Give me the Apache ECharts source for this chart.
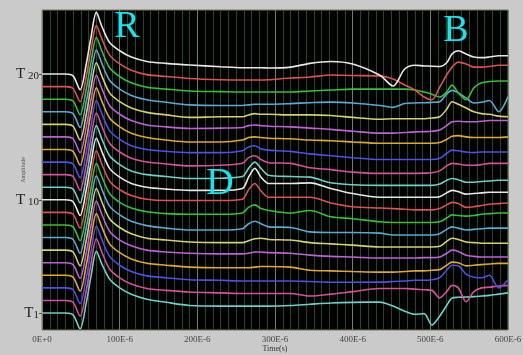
<!DOCTYPE html>
<html>
<head>
<meta charset="utf-8">
<script src="https://cdn.jsdelivr.net/npm/echarts@6/dist/echarts.min.js"></script>
<style>
html,body{margin:0;padding:0;background:#cacaca;}
#c{width:523px;height:355px;}
</style>
</head>
<body>
<div id="c"></div>
<script>
// time grid in microseconds
const timeUs = [0, 30, 40, 49, 57, 63, 70, 77, 87, 100, 115, 135, 160, 190, 230, 258, 266, 274, 282, 292, 320, 345, 372, 400, 435, 452, 467, 480, 492, 502, 512, 521, 528, 536, 546, 556, 566, 576, 588, 600];

// amplitude of each trace relative to its own baseline
const T1  = [0, 0, -0.15, -1.25, 0.8, 2.9, 4.9, 3.9, 2.7, 2.0, 1.5, 1.1, 0.85, 0.6, 0.55, 0.55, 0.55, 0.55, 0.55, 0.55, 0.6, 0.7, 0.8, 0.85, 0.87, 0.55, 0.15, -0.1, -0.05, -0.95, -0.25, 0.6, 1.2, 1.25, 1.27, 1.3, 1.35, 1.4, 1.5, 1.6];
const T2  = [0, 0, -0.15, -1.25, 0.8, 2.9, 4.9, 3.85, 2.5, 1.8, 1.3, 0.95, 0.8, 0.67, 0.6, 0.55, 0.55, 0.55, 0.55, 0.55, 0.55, 0.35, 0.5, 0.7, 0.95, 0.95, 0.95, 0.9, 0.85, 0.8, 0.2, 0.7, 1.2, 1.0, -0.1, 0.7, 1.0, 1.05, 1.15, 1.2];
const T3  = [0, 0, -0.15, -1.25, 0.8, 2.9, 4.9, 3.85, 2.5, 1.8, 1.3, 0.95, 0.8, 0.65, 0.6, 0.55, 0.55, 0.55, 0.55, 0.55, 0.55, 0.5, 0.45, 0.45, 0.46, 0.5, 0.55, 0.6, 0.6, 0.65, 0.8, 1.4, 1.8, 1.75, 1.1, 0.85, 0.8, 1.0, 0.0, 0.65];
const T4  = [0, 0, -0.15, -1.25, 0.8, 2.9, 4.9, 3.85, 2.5, 1.8, 1.3, 0.95, 0.8, 0.65, 0.6, 0.6, 0.6, 0.65, 0.7, 0.7, 0.65, 0.4, 0.35, 0.3, 0.25, 0.25, 0.3, 0.35, 0.35, 0.4, 0.45, 0.8, 1.05, 1.0, 0.75, 0.8, 0.85, 0.9, 0.95, 0.95];
const T5  = [0, 0, -0.15, -1.25, 0.8, 2.9, 4.9, 3.85, 2.5, 1.8, 1.35, 1.0, 0.85, 0.75, 0.7, 0.7, 0.75, 0.85, 0.85, 0.8, 0.75, 0.6, 0.5, 0.45, 0.37, 0.37, 0.37, 0.37, 0.4, 0.4, 0.45, 0.75, 1.0, 0.9, 0.6, 0.5, 0.45, 0.45, 0.45, 0.45];
const T6  = [0, 0, -0.15, -1.25, 0.8, 2.9, 4.9, 3.85, 2.5, 1.8, 1.3, 0.95, 0.8, 0.65, 0.6, 0.6, 0.75, 0.9, 0.95, 0.85, 0.8, 0.6, 0.5, 0.4, 0.25, 0.25, 0.25, 0.25, 0.25, 0.25, 0.3, 0.7, 0.95, 0.85, 0.65, 0.6, 0.55, 0.55, 0.55, 0.55];
const T7  = [0, 0, -0.15, -1.25, 0.8, 2.9, 4.9, 3.85, 2.5, 1.8, 1.3, 0.95, 0.75, 0.6, 0.6, 0.7, 1.1, 1.3, 1.1, 0.85, 0.8, 0.45, 0.4, 0.4, 0.35, 0.2, 0.2, 0.2, 0.2, 0.2, 0.3, 0.65, 0.85, 0.75, 0.6, 0.65, 0.7, 0.75, 0.75, 0.75];
const T8  = [0, 0, -0.15, -1.25, 0.8, 2.9, 4.9, 3.85, 2.5, 1.8, 1.35, 1.05, 0.9, 0.85, 0.85, 0.95, 1.4, 1.6, 1.3, 1.15, 0.95, 1.15, 0.65, 0.5, 0.25, 0.2, 0.2, 0.2, 0.2, 0.2, 0.25, 0.55, 0.8, 0.75, 0.7, 0.75, 0.85, 0.9, 0.95, 0.95];
const T9  = [0, 0, -0.15, -1.25, 0.8, 2.9, 4.9, 3.85, 2.5, 1.8, 1.35, 1.05, 0.95, 0.95, 0.95, 1.05, 1.8, 2.3, 1.7, 1.2, 1.2, 1.2, 0.75, 0.45, 0.35, 0.3, 0.25, 0.2, 0.2, 0.2, 0.3, 0.6, 0.8, 0.7, 0.4, 0.45, 0.55, 0.65, 0.7, 0.75];
const T10 = [0, 0, -0.15, -1.25, 0.8, 2.9, 4.9, 3.85, 2.5, 1.8, 1.3, 1.0, 0.85, 0.75, 0.75, 0.9, 1.8, 2.5, 1.8, 1.3, 1.3, 1.35, 0.9, 0.5, 0.2, 0.2, 0.2, 0.2, 0.2, 0.2, 0.25, 0.55, 0.75, 0.65, 0.45, 0.5, 0.55, 0.6, 0.6, 0.6];
const T11 = [0, 0, -0.15, -1.25, 0.8, 2.9, 4.9, 3.85, 2.5, 1.8, 1.3, 1.0, 0.85, 0.7, 0.72, 0.85, 1.5, 2.0, 1.5, 0.95, 0.85, 0.8, 0.35, 0.2, 0.15, 0.15, 0.15, 0.15, 0.15, 0.15, 0.25, 0.55, 0.7, 0.6, 0.4, 0.4, 0.45, 0.5, 0.55, 0.55];
const T12 = [0, 0, -0.15, -1.25, 0.8, 2.9, 4.9, 3.85, 2.5, 1.8, 1.3, 1.0, 0.85, 0.7, 0.75, 0.9, 1.35, 1.5, 1.2, 0.95, 0.9, 0.55, 0.4, 0.2, 0.1, 0.1, 0.1, 0.1, 0.12, 0.15, 0.3, 0.7, 0.9, 0.85, 0.75, 0.75, 0.8, 0.9, 0.9, 0.9];
const T13 = [0, 0, -0.15, -1.25, 0.8, 2.9, 4.9, 3.85, 2.5, 1.8, 1.3, 1.0, 0.85, 0.75, 0.75, 0.9, 1.2, 1.3, 1.05, 0.95, 0.85, 0.65, 0.5, 0.35, 0.2, 0.2, 0.2, 0.2, 0.2, 0.2, 0.3, 0.7, 0.95, 0.9, 0.8, 0.75, 0.8, 0.8, 0.8, 0.8];
const T14 = [0, 0, -0.15, -1.25, 0.8, 2.9, 4.9, 3.85, 2.5, 1.8, 1.3, 0.95, 0.75, 0.6, 0.6, 0.75, 0.95, 1.0, 0.95, 0.9, 0.85, 0.75, 0.7, 0.6, 0.5, 0.5, 0.5, 0.5, 0.5, 0.5, 0.55, 0.8, 1.05, 1.1, 1.0, 0.95, 0.95, 0.95, 0.95, 1.0];
const T15 = [0, 0, -0.15, -1.25, 0.8, 2.9, 4.9, 3.85, 2.5, 1.8, 1.3, 0.95, 0.8, 0.67, 0.7, 0.75, 0.9, 0.95, 0.9, 0.85, 0.8, 0.7, 0.6, 0.45, 0.3, 0.3, 0.35, 0.4, 0.42, 0.45, 0.55, 0.9, 1.2, 1.25, 1.2, 1.2, 1.25, 1.3, 1.3, 1.3];
const T16 = [0, 0, -0.15, -1.25, 0.8, 2.9, 4.9, 3.85, 2.5, 1.8, 1.3, 0.95, 0.75, 0.55, 0.6, 0.6, 0.75, 0.85, 0.8, 0.8, 0.75, 0.75, 0.7, 0.55, 0.4, 0.45, 0.45, 0.45, 0.45, 0.5, 0.6, 1.2, 1.8, 1.6, 1.3, 1.0, 0.85, 0.8, 0.65, 0.6];
const T17 = [0, 0, -0.15, -1.25, 0.8, 2.9, 4.9, 3.85, 2.5, 1.8, 1.3, 0.95, 0.75, 0.55, 0.5, 0.5, 0.55, 0.6, 0.6, 0.6, 0.65, 0.72, 0.77, 0.7, 0.5, 0.35, 0.65, 0.7, 0.72, 0.75, 0.8, 1.4, 1.7, 1.5, 1.1, 0.7, 0.75, 0.9, 0.0, 1.2];
const T18 = [0, 0, -0.15, -1.25, 0.8, 2.9, 4.9, 3.85, 2.5, 1.8, 1.3, 0.95, 0.8, 0.65, 0.6, 0.57, 0.57, 0.57, 0.57, 0.57, 0.57, 0.65, 0.73, 0.8, 0.8, 0.8, 0.8, 0.73, 0.57, 0.4, 0.17, 0.57, 1.12, 0.5, -0.05, 0.9, 1.3, 1.4, 1.44, 1.44];
const T19 = [0, 0, -0.15, -1.2, 0.8, 2.9, 4.85, 3.8, 2.5, 1.8, 1.3, 0.95, 0.8, 0.65, 0.55, 0.52, 0.52, 0.52, 0.52, 0.55, 0.68, 0.76, 0.92, 0.88, 0.85, 0.6, 0.13, -0.27, -0.83, -1.05, -0.05, 0.92, 1.55, 1.95, 1.8, 1.55, 1.55, 1.6, 1.7, 1.7];
const T20 = [0, 0, -0.15, -1.25, 0.8, 2.9, 4.9, 3.8, 2.5, 1.85, 1.35, 1.0, 0.85, 0.72, 0.58, 0.5, 0.5, 0.5, 0.5, 0.48, 0.55, 0.85, 1.0, 0.8, -0.1, -0.95, 0.4, 0.7, 0.65, 0.62, 0.6, 0.9, 1.6, 1.85, 1.6, 1.35, 1.3, 1.35, 1.45, 1.45];

const traces = [T1, T2, T3, T4, T5, T6, T7, T8, T9, T10, T11, T12, T13, T14, T15, T16, T17, T18, T19, T20];
const baselines = [1, 2, 3, 4, 5, 6, 7, 8, 9, 10, 11, 12, 13, 14, 15, 16, 17, 18, 19, 20];
const traceColors = ['#6fd0c8', '#d8509a', '#4f4fea', '#e0a830', '#c060d8', '#d2d272', '#5aaad2', '#38c038', '#e05050', '#e8e8e8',
                     '#6fd0c8', '#d8509a', '#4f4fea', '#e0a830', '#c060d8', '#d2d272', '#5aaad2', '#38c038', '#e05050', '#e8e8e8'];
const xTickLabels = {0: '0E+0', 100: '100E-6', 200: '200E-6', 300: '300E-6', 400: '400E-6', 500: '500E-6', 600: '600E-6'};
const yLabelValues = [1, 10, 20];
const yLabelText = {1: ['T', '1'], 10: ['T', ' 10'], 20: ['T', ' 20']};
const marks = [{text: 'R', x: 127, y: 27}, {text: 'D', x: 220, y: 184}, {text: 'B', x: 456, y: 31}];

const chart = echarts.init(document.getElementById('c'), null, {renderer: 'canvas'});
const series = traces.map((vals, i) => ({
  type: 'line',
  name: 'T' + (i + 1),
  data: timeUs.map((t, k) => [t, vals[k] + baselines[i]]),
  smooth: 0.3,
  showSymbol: false,
  lineStyle: {color: traceColors[i], width: 1.6},
  itemStyle: {color: traceColors[i]},
  z: 3
}));

chart.setOption({
  animation: false,
  backgroundColor: '#cacaca',
  grid: {left: 42, right: 15, top: 10, bottom: 25, containLabel: false, outerBoundsMode: 'none',
         show: true, backgroundColor: '#000', borderColor: '#7a7a5a', borderWidth: 1},
  xAxis: {
    type: 'value', min: 0, max: 600, interval: 100,
    name: 'Time(s)', nameLocation: 'middle', nameGap: 15, nameMoveOverlap: false,
    nameTextStyle: {fontFamily: 'Liberation Serif', fontSize: 8, color: '#333'},
    axisLine: {show: false},
    axisTick: {show: false},
    axisLabel: {fontFamily: 'Liberation Serif', fontSize: 9, color: '#444', margin: 5, hideOverlap: false,
      formatter: v => xTickLabels[v] !== undefined ? xTickLabels[v] : ''},
    splitLine: {show: true, lineStyle: {color: '#5c8a5c', width: 1}},
    minorTick: {show: false, splitNumber: 10},
    minorSplitLine: {show: true, lineStyle: {color: '#1d4d1d', width: 1}}
  },
  yAxis: {
    type: 'value', min: -0.35, max: 25.09,
    name: 'Amplitude', nameLocation: 'middle', nameGap: 16, nameRotate: 90, nameMoveOverlap: false,
    nameTextStyle: {fontFamily: 'Liberation Serif', fontSize: 6, color: '#555'},
    axisLine: {show: false},
    splitLine: {show: false},
    axisTick: {show: true, length: 3, lineStyle: {color: '#555'}, customValues: yLabelValues},
    axisLabel: {
      customValues: yLabelValues, margin: 3,
      formatter: v => { const p = yLabelText[Math.round(v)]; return p ? '{a|' + p[0] + '}{b|' + p[1] + '}' : ''; },
      rich: {
        a: {fontFamily: 'Liberation Serif', fontSize: 15, color: '#222'},
        b: {fontFamily: 'Liberation Serif', fontSize: 11, color: '#222', verticalAlign: 'bottom'}
      }
    }
  },
  graphic: marks.map(m => ({
    type: 'text', x: m.x, y: m.y, z: 10,
    style: {text: m.text, fill: '#14e6ee', font: '38px "Liberation Serif"', textAlign: 'center', textVerticalAlign: 'middle'}
  })),
  series: series
});
</script>
</body>
</html>
